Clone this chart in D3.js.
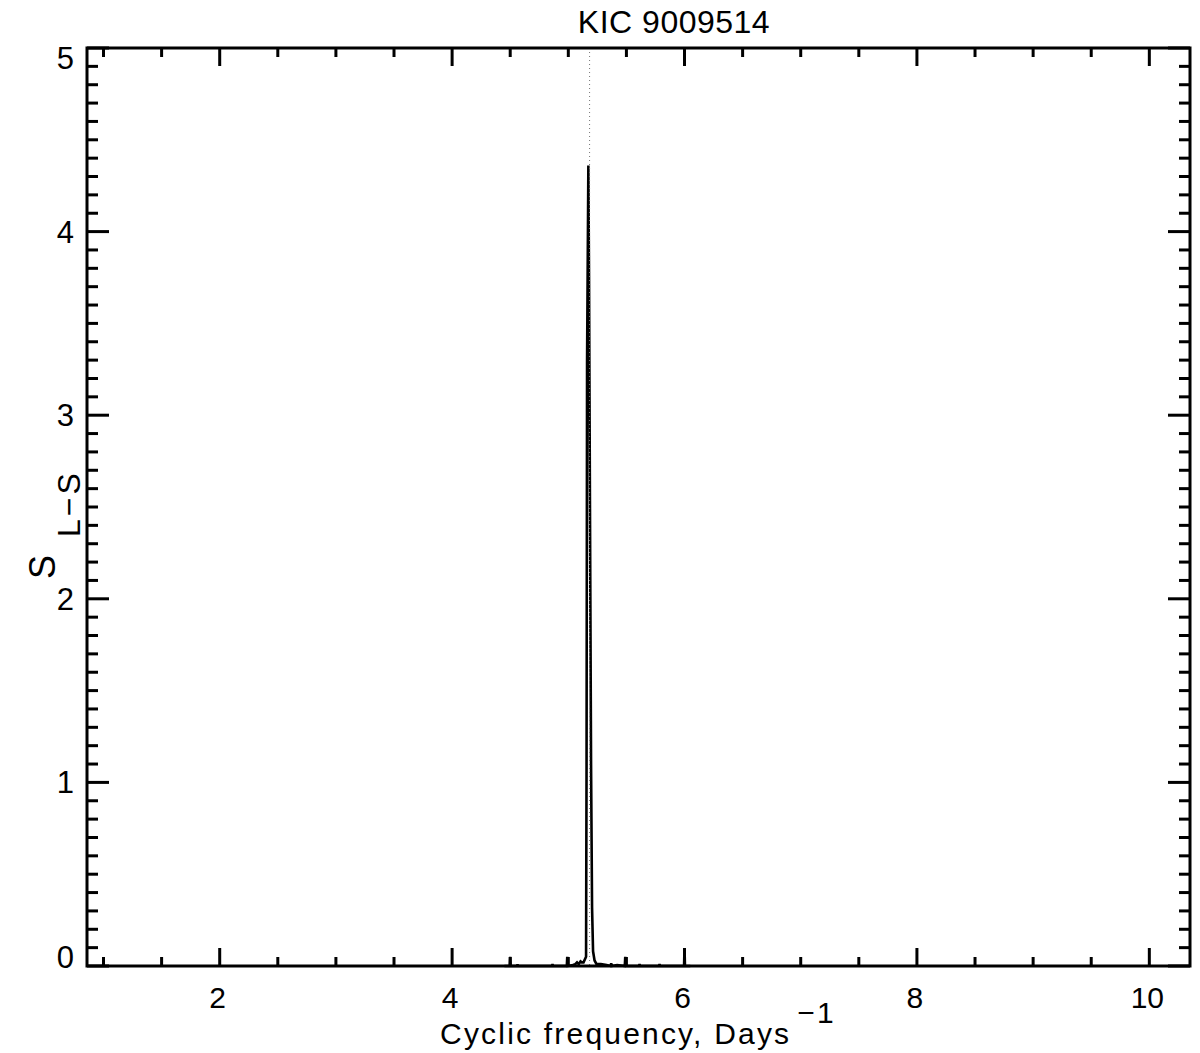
<!DOCTYPE html>
<html>
<head>
<meta charset="utf-8">
<script src="https://cdn.jsdelivr.net/npm/d3@7"></script>
<style>
  html, body { margin: 0; padding: 0; background: #fff; }
  text { font-family: "Liberation Sans", "DejaVu Sans", sans-serif; fill: #000; }
</style>
</head>
<body>
<svg id="chart" width="1200" height="1053"></svg>
<script>
// ---- data ----
const title = "KIC 9009514";
const xLabel = "Cyclic frequency, Days";
const xLabelSup = "\u22121";
const yLabel = "S";
const yLabelSub = "L\u2212S";

const xTickLabels = [2, 4, 6, 8, 10];
const yTickLabels = [0, 1, 2, 3, 4, 5];

const peakFrequency = 5.183;

// Lomb-Scargle spectrum (frequency, power)
const frequency = [
  4.450, 4.496, 4.500, 4.504, 4.560, 4.563, 4.566, 4.700, 4.860, 4.864, 4.868,
  4.987, 4.991, 4.995, 5.040, 5.060, 5.075, 5.090, 5.105, 5.115, 5.131,
  5.1527, 5.1570, 5.1613, 5.1725, 5.1785, 5.1871, 5.1957, 5.2043, 5.2129,
  5.2258, 5.2430, 5.280, 5.330, 5.365, 5.369, 5.373, 5.420, 5.486, 5.490, 5.494,
  5.560, 5.609, 5.613, 5.617, 5.700, 5.781, 5.785, 5.789, 5.900, 5.996, 6.000, 6.004, 6.050
];
const power = [
  0.000, 0.000, 0.050, 0.000, 0.000, 0.010, 0.000, 0.000, 0.000, 0.010, 0.000,
  0.000, 0.050, 0.000, 0.005, 0.010, 0.020, 0.010, 0.025, 0.020, 0.020,
  0.050, 1.100, 3.280, 4.360, 3.720, 2.400, 1.100, 0.320, 0.080,
  0.030, 0.010, 0.010, 0.005, 0.000, 0.015, 0.000, 0.005, 0.000, 0.050, 0.000,
  0.000, 0.000, 0.010, 0.000, 0.000, 0.000, 0.010, 0.000, 0.000, 0.000, 0.098, 0.000, 0.000
];

// ---- layout ----
const L = 87, R = 1190, T = 48, B = 966;
const svg = d3.select("#chart");

const x = d3.scaleLinear().domain([0.858, 10.35]).range([L, R]);
const y = d3.scaleLinear().domain([0, 5]).range([B, T]);

const xMajorLen = 18, xMinorLen = 9, yMajorLen = 22, yMinorLen = 11;

// data line
const pts = frequency.map((f, i) => [f, power[i]]);
svg.append("path")
  .datum(pts)
  .attr("d", d3.line().x(d => x(d[0])).y(d => y(d[1])))
  .attr("fill", "none")
  .attr("stroke", "#000")
  .attr("stroke-width", 2.6)
  .attr("stroke-linejoin", "miter");

// dotted marker at peak frequency
svg.append("line")
  .attr("x1", x(peakFrequency)).attr("x2", x(peakFrequency))
  .attr("y1", T).attr("y2", B)
  .attr("stroke", "#777").attr("stroke-width", 1)
  .attr("stroke-dasharray", "1,3");

// ticks
const g = svg.append("g").attr("stroke", "#000").attr("stroke-width", 3);
const xMinor = d3.range(1, 10.31, 0.5).filter(v => Math.abs(v / 2 - Math.round(v / 2)) > 1e-6);
xMinor.forEach(v => {
  g.append("line").attr("x1", x(v)).attr("x2", x(v)).attr("y1", B).attr("y2", B - xMinorLen);
  g.append("line").attr("x1", x(v)).attr("x2", x(v)).attr("y1", T).attr("y2", T + xMinorLen);
});
xTickLabels.forEach(v => {
  g.append("line").attr("x1", x(v)).attr("x2", x(v)).attr("y1", B).attr("y2", B - xMajorLen);
  g.append("line").attr("x1", x(v)).attr("x2", x(v)).attr("y1", T).attr("y2", T + xMajorLen);
});
const yMinor = d3.range(1, 50).map(i => i / 10).filter(v => Math.abs(v - Math.round(v)) > 1e-6);
yMinor.forEach(v => {
  g.append("line").attr("x1", L).attr("x2", L + yMinorLen).attr("y1", y(v)).attr("y2", y(v));
  g.append("line").attr("x1", R).attr("x2", R - yMinorLen).attr("y1", y(v)).attr("y2", y(v));
});
yTickLabels.forEach(v => {
  g.append("line").attr("x1", L).attr("x2", L + yMajorLen).attr("y1", y(v)).attr("y2", y(v));
  g.append("line").attr("x1", R).attr("x2", R - yMajorLen).attr("y1", y(v)).attr("y2", y(v));
});

// frame
svg.append("rect")
  .attr("x", L).attr("y", T).attr("width", R - L).attr("height", B - T)
  .attr("fill", "none").attr("stroke", "#000").attr("stroke-width", 3);

// tick labels
svg.selectAll("text.xt").data(xTickLabels).enter().append("text")
  .attr("class", "xt")
  .attr("x", d => x(d) - 2).attr("y", 1008)
  .attr("text-anchor", "middle")
  .attr("font-size", 30)
  .text(d => d);

svg.selectAll("text.yt").data(yTickLabels).enter().append("text")
  .attr("class", "yt")
  .attr("x", 74)
  .attr("y", d => Math.min(Math.max(y(d), T + 10), B - 9) + 11)
  .attr("text-anchor", "end")
  .attr("font-size", 31)
  .text(d => d);

// title
svg.append("text")
  .attr("x", 674).attr("y", 33)
  .attr("text-anchor", "middle")
  .attr("font-size", 32)
  .attr("letter-spacing", 0.5)
  .text(title);

// x label
const xl = svg.append("text")
  .attr("x", 638).attr("y", 1044)
  .attr("text-anchor", "middle")
  .attr("font-size", 30)
  .attr("letter-spacing", 2.2);
xl.append("tspan").text(xLabel);
xl.append("tspan").attr("dx", 6).attr("dy", -21).text(xLabelSup);

// y label
const yl = svg.append("text")
  .attr("transform", "translate(55,579) rotate(-90)")
  .attr("text-anchor", "start")
  .attr("font-size", 36);
yl.append("tspan").text(yLabel);
yl.append("tspan").attr("dx", 18).attr("dy", 25).attr("font-size", 32)
  .attr("letter-spacing", 3).text(yLabelSub);
</script>
</body>
</html>
